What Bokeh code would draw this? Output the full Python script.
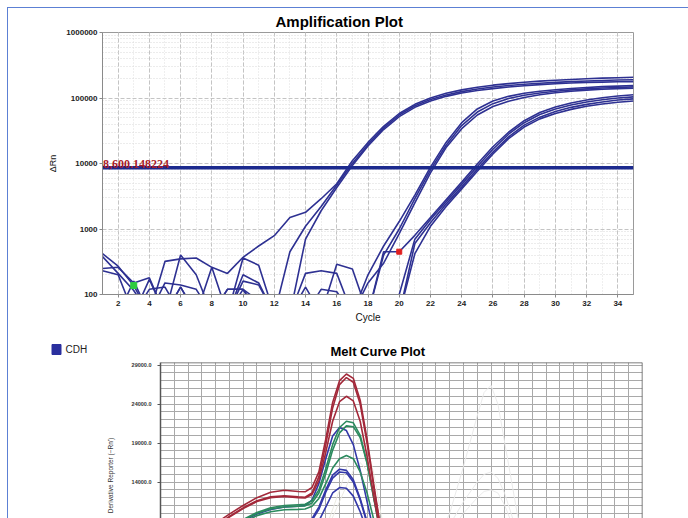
import math
from bokeh.plotting import figure
from bokeh.models import (Range1d, FixedTicker, Span, PrintfTickFormatter)
from bokeh.layouts import column, row
from bokeh.embed import file_html
from bokeh.resources import INLINE
from bokeh.core.properties import value

# ---------------- Amplification plot data ----------------
cycles = list(range(1, 36))
x_ticks = list(range(2, 35, 2))
y_ticks = [100, 1000, 10000, 100000, 1000000]
threshold = 8600.148224
threshold_text = "8,600.148224"

amp_A1 = [420, 270, 137, 50, 320, 350, 360, 260, 210, 370, 550, 790, 1500, 1800, 2900, 4900, 11000, 21000, 37000, 58000, 80000, 100000, 118000, 133000, 146000, 157000, 166000, 174000, 181000, 187000, 192000, 197000, 201000, 204000, 207000]
amp_A2 = [250, 260, 150, 180, 50, 400, 200, 50, 50, 200, 150, 50, 450, 1100, 2200, 4700, 10000, 19500, 35000, 55000, 76000, 95000, 111000, 125000, 137000, 147000, 155000, 162000, 168000, 173000, 178000, 182000, 185000, 188000, 190000]
amp_A3 = [380, 210, 115, 50, 150, 140, 120, 50, 120, 120, 80, 50, 50, 700, 1900, 4300, 9300, 18500, 33000, 52000, 72000, 90000, 106000, 119000, 130000, 139000, 147000, 154000, 160000, 165000, 169000, 173000, 175000, 177000, 178000]
amp_B1 = [230, 200, 50, 170, 50, 130, 50, 50, 50, 360, 280, 50, 50, 210, 230, 210, 50, 200, 550, 1300, 3300, 8800, 21000, 42000, 68000, 90000, 106000, 118000, 127000, 134000, 140000, 145000, 149000, 152000, 155000]
amp_B2 = [50, 50, 50, 120, 130, 50, 50, 260, 50, 120, 50, 50, 50, 50, 50, 290, 245, 50, 400, 1000, 2900, 8000, 19000, 38000, 61000, 82000, 98000, 110000, 119000, 127000, 133000, 138000, 142000, 145000, 148000]
amp_B3 = [50, 50, 50, 50, 50, 130, 50, 50, 50, 160, 140, 50, 50, 130, 50, 50, 50, 150, 300, 850, 2500, 7200, 17500, 34000, 55000, 74000, 89000, 102000, 112000, 120000, 127000, 132000, 136000, 139000, 141000]
amp_C1 = [50, 50, 50, 50, 50, 50, 50, 50, 120, 120, 50, 50, 50, 50, 120, 110, 50, 50, 450, 450, 800, 1500, 2800, 5200, 9800, 18000, 30000, 45000, 60000, 73000, 84000, 93000, 101000, 107000, 112000]
amp_C2 = [50, 50, 160, 50, 50, 50, 50, 50, 50, 50, 50, 50, 50, 50, 50, 50, 50, 50, 50, 100, 700, 1400, 2600, 4800, 9000, 16500, 28000, 42000, 56000, 68000, 78000, 87000, 94000, 100000, 104000]
amp_C3 = [50, 50, 50, 50, 50, 50, 50, 50, 50, 50, 50, 50, 50, 50, 50, 50, 50, 50, 50, 50, 600, 1250, 2400, 4400, 8200, 15000, 25500, 38500, 51000, 62000, 72000, 80000, 87000, 93000, 97000]
amp_C4 = [50, 50, 50, 50, 50, 50, 50, 50, 50, 50, 50, 50, 50, 50, 50, 50, 50, 50, 50, 50, 420, 1100, 2200, 4100, 7600, 14000, 24000, 36000, 48000, 58000, 67000, 75000, 81000, 86000, 90000]
amp_series = [amp_A1, amp_A2, amp_A3, amp_B1, amp_B2, amp_B3, amp_C1, amp_C2, amp_C3, amp_C4]

green_marker = (3, 137)
red_marker = (20, 450)

# ---------------- Melt curve data ----------------
melt_T = [62, 63, 64, 65, 66, 67, 68, 69, 70, 70.5, 71, 71.5, 72, 72.5, 73, 73.5, 74, 74.5, 75, 75.5, 76, 77]
melt_red = [
    [6000, 7300, 8700, 9900, 11000, 12000, 12700, 12950, 12800, 12750, 13300, 15300, 19500, 24200, 27000, 27850, 27300, 24500, 19500, 13500, 8000, 3000],
    [5800, 7000, 8400, 9600, 10700, 11600, 12100, 12250, 12100, 12050, 12600, 14700, 18800, 23500, 26500, 27400, 26800, 24000, 19000, 13200, 7800, 2800],
    [5700, 6900, 8300, 9500, 10600, 11500, 12000, 12150, 12000, 11950, 12400, 14200, 17800, 21800, 24300, 25000, 24400, 21800, 17300, 12000, 7200, 2600],
]
melt_green = [
    [4500, 5600, 6900, 8100, 9200, 10100, 10700, 11000, 11100, 11150, 11600, 13000, 15700, 18800, 21000, 21800, 21600, 20000, 16500, 11800, 7200, 2600],
    [4400, 5500, 6800, 8000, 9100, 10000, 10550, 10800, 10900, 10950, 11300, 12600, 15100, 18100, 20300, 21200, 21100, 19700, 16400, 11900, 7400, 2700],
    [4200, 5300, 6500, 7700, 8800, 9700, 10200, 10450, 10500, 10550, 10900, 11900, 13800, 15800, 17000, 17400, 17000, 15300, 12600, 9100, 5800, 2200],
]
melt_blue = [
    [4300, 5400, 6700, 7900, 9000, 9900, 10500, 10800, 10900, 11000, 11700, 13800, 17000, 19900, 21000, 20600, 18800, 15500, 11500, 7500, 4200, 1500],
    [2000, 2500, 3100, 3800, 4600, 5500, 6400, 7200, 8000, 8500, 9300, 10800, 13000, 14900, 15650, 15500, 14300, 11900, 8900, 5800, 3300, 1200],
    [1900, 2400, 3000, 3700, 4500, 5400, 6300, 7100, 7900, 8400, 9100, 10500, 12700, 14500, 15300, 15200, 14000, 11700, 8700, 5700, 3200, 1100],
    [1700, 2200, 2800, 3400, 4200, 5000, 5900, 6700, 7500, 8000, 8200, 9000, 10800, 12600, 13300, 13200, 12200, 10200, 7700, 5100, 2900, 1000],
]
ghost_T = [78, 80, 81, 82, 83, 83.5, 84, 84.5, 85, 86, 87]
melt_ghost = [
    [3000, 6000, 10000, 16000, 22500, 25500, 26400, 24000, 19000, 9000, 3000],
    [3000, 5500, 8500, 11500, 14000, 15000, 15300, 14500, 12500, 7000, 2500],
    [2500, 5000, 7500, 10000, 12000, 12800, 13000, 12600, 11000, 6500, 2200],
]
ghost2_T = [72, 73, 74, 74.5, 75, 75.5, 76, 76.5]
melt_ghost2 = [
    [8000, 13000, 18500, 19800, 18500, 15000, 10000, 6000],
    [7500, 11500, 15500, 16500, 15500, 12500, 8500, 5000],
]
melt_y_ticks = [9000, 14000, 19000, 24000, 29000]
legend_label = "CDH"
melt_ylabel = "Derivative Reporter (\u2212Rn')"

NAVY = "#2e3192"

# ---------------- Amplification figure ----------------
p1 = figure(width=680, height=322, x_range=Range1d(1, 35), y_range=Range1d(100, 1000000),
            y_axis_type="log", output_backend="svg", toolbar_location=None,
            min_border_left=94, min_border_right=55, min_border_top=24, min_border_bottom=36)
p1.frame_align = False
p1.outline_line_color = "#9a9a9a"
p1.title.text = "Amplification Plot"
p1.title.align = "left"
p1.title.offset = 173
p1.title.standoff = 5
p1.title.text_font = "Liberation Sans"
p1.title.text_font_style = "bold"
p1.title.text_font_size = "15px"
p1.title.text_color = "#000000"

p1.xaxis.ticker = FixedTicker(ticks=x_ticks)
p1.yaxis.ticker = FixedTicker(ticks=y_ticks)
p1.yaxis.formatter = PrintfTickFormatter(format="%d")
for ax in (p1.xaxis[0], p1.yaxis[0]):
    ax.axis_line_color = "#8a8a8a"
    ax.major_tick_line_color = "#8a8a8a"
    ax.major_tick_out = 3
    ax.major_tick_in = 0
    ax.minor_tick_line_color = None
    ax.major_label_text_font = "Liberation Sans"
    ax.major_label_text_font_size = "8px"
    ax.major_label_text_font_style = "bold"
    ax.major_label_text_color = "#222222"
    ax.axis_label_text_font = "Liberation Sans"
    ax.axis_label_text_font_style = "normal"
    ax.axis_label_text_color = "#111111"
p1.xaxis.axis_label = "Cycle"
p1.xaxis.axis_label_text_font_size = "10px"
p1.xaxis.major_label_standoff = 3
p1.xaxis.axis_label_standoff = 3
p1.yaxis.axis_label = "ΔRn"
p1.yaxis.axis_label_text_font_size = "9px"
p1.yaxis.major_label_standoff = 2
p1.yaxis.axis_label_standoff = 5

p1.xgrid.ticker = FixedTicker(ticks=x_ticks, minor_ticks=cycles)
p1.xgrid.grid_line_color = "#c4c4c4"
p1.xgrid.grid_line_dash = "4 2"
p1.xgrid.minor_grid_line_color = "#dedede"
p1.xgrid.minor_grid_line_dash = "1 2"
minor_y = [k * 10 ** d for d in range(2, 6) for k in range(2, 10)]
p1.ygrid.ticker = FixedTicker(ticks=y_ticks, minor_ticks=minor_y)
p1.ygrid.grid_line_color = "#c4c4c4"
p1.ygrid.grid_line_dash = "4 2"
p1.ygrid.minor_grid_line_color = "#d8d8d8"
p1.ygrid.minor_grid_line_dash = "1 2"

for s in amp_series:
    p1.line(cycles, s, line_color=NAVY, line_width=1.6)

p1.line([1, 35], [threshold, threshold], line_color="#1c2a8e", line_width=3.5)
p1.text(x=[1.03], y=[threshold], text=[threshold_text], text_font=value("Liberation Serif"),
        text_font_style="bold", text_font_size="12px", text_color="#a81c2a",
        text_baseline="bottom", text_align="left", y_offset=0)
p1.scatter([green_marker[0]], [green_marker[1]], marker="square", size=6, color="#2ecc40")
p1.scatter([red_marker[0]], [red_marker[1]], marker="square", size=5, color="#e02020")

# ---------------- Legend / y-label strip (left of melt plot) ----------------
leg = figure(width=120, height=188, x_range=Range1d(0, 120), y_range=Range1d(0, 188),
             output_backend="svg", toolbar_location=None, x_axis_location=None, y_axis_location=None,
             min_border_left=0, min_border_right=0, min_border_top=0, min_border_bottom=0)
leg.frame_align = False
leg.outline_line_color = None
leg.xgrid.visible = False
leg.ygrid.visible = False
leg.rect(x=[48], y=[169], width=9, height=10, fill_color="#2a2f9e", line_color="#2a2f9e")
leg.text(x=[57], y=[169], text=[legend_label], text_font=value("Liberation Sans"),
         text_font_size="10px", text_color="#222222", text_baseline="middle", text_align="left")
leg.text(x=[102], y=[43], text=[melt_ylabel], text_font=value("Liberation Sans"),
         text_font_size="6.5px", text_color="#333333", text_baseline="middle", text_align="center",
         angle=math.pi / 2)

# ---------------- Melt curve figure ----------------
p2 = figure(width=560, height=188, x_range=Range1d(60, 95), y_range=Range1d(9330, 29330),
            output_backend="svg", toolbar_location=None, x_axis_location=None,
            min_border_left=31, min_border_right=46, min_border_top=32, min_border_bottom=0)
p2.frame_align = False
p2.outline_line_color = None
p2.title.text = "Melt Curve Plot"
p2.title.align = "left"
p2.title.offset = 170
p2.title.standoff = 8
p2.title.text_font = "Liberation Sans"
p2.title.text_font_style = "bold"
p2.title.text_font_size = "13px"
p2.title.text_color = "#000000"

p2.yaxis.ticker = FixedTicker(ticks=melt_y_ticks)
p2.yaxis.formatter = PrintfTickFormatter(format="%.1f")
p2.yaxis.axis_line_color = "#555555"
p2.yaxis.axis_line_width = 1.5
p2.yaxis.major_tick_line_color = "#555555"
p2.yaxis.major_tick_out = 3
p2.yaxis.major_tick_in = 0
p2.yaxis.minor_tick_line_color = None
p2.yaxis.major_label_text_font = "Liberation Sans"
p2.yaxis.major_label_text_font_size = "5.5px"
p2.yaxis.major_label_text_font_style = "bold"
p2.yaxis.major_label_text_color = "#333333"
p2.yaxis.major_label_standoff = 6

p2.xgrid.ticker = FixedTicker(ticks=list(range(60, 96)))
p2.ygrid.ticker = FixedTicker(ticks=list(range(9000, 30000, 1000)))
for g in (p2.xgrid[0], p2.ygrid[0]):
    g.grid_line_color = "#a9a9a9"
    g.grid_line_width = 1

p2.add_layout(Span(location=29330, dimension="width", line_color="#555555", line_width=1.5))
p2.add_layout(Span(location=95, dimension="height", line_color="#555555", line_width=1.5))

for s in melt_ghost:
    p2.line(ghost_T, s, line_color="#eaeaea", line_width=1)
for s in melt_ghost2:
    p2.line(ghost2_T, s, line_color="#ebebe2", line_width=1)
for s in melt_blue:
    p2.line(melt_T, s, line_color="#3338a8", line_width=1.6)
for s in melt_green:
    p2.line(melt_T, s, line_color="#2b8a5e", line_width=1.6)
for s in melt_red:
    p2.line(melt_T, s, line_color="#a3293a", line_width=1.6)

layout = column(p1, row(leg, p2, spacing=0), spacing=0,
                styles={"margin-left": "6.5px", "margin-top": "6.5px",
                        "border-left": "1.5px solid #5c80d4", "border-top": "1.5px solid #5c80d4"})

open("out.html", "w").write(file_html(layout, INLINE))
